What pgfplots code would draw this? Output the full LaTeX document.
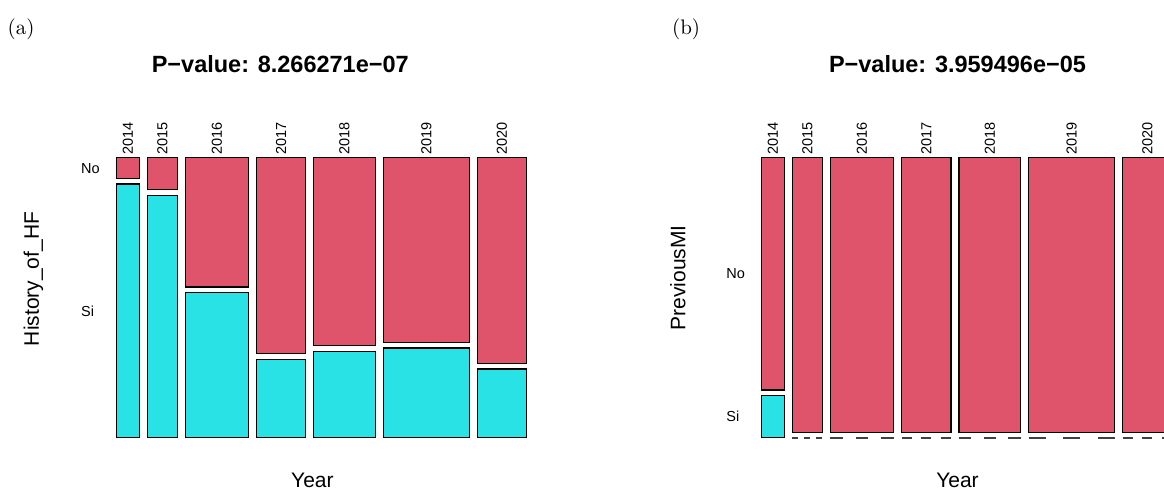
\documentclass[border=0pt]{standalone}
\usepackage{pgfplots}
\pgfplotsset{compat=1.18}
\usepackage{fontspec}
\newfontfamily\hv{Liberation Sans}
\definecolor{mred}{HTML}{DF536B}
\definecolor{mcyan}{HTML}{28E2E5}
\begin{document}
\begin{tikzpicture}
\begin{axis}[
  at={(0,0)}, anchor=north west,
  scale only axis, width=582bp, height=244.5bp,
  xmin=0, xmax=1164, ymin=0, ymax=489, y dir=reverse,
  hide axis, clip=true,
  tile/.style={draw=black, line width=0.6bp},
  red/.style={tile, fill=mred},
  cyan/.style={tile, fill=mcyan},
]
% ---- panel (a): History_of_HF by Year (tile corners, pixel units) ----
% 2014
\addplot[red]  coordinates {(116.3,157.3) (139.3,157.3) (139.3,178.3) (116.3,178.3)} --cycle;
\addplot[cyan] coordinates {(116.3,184.0) (139.3,184.0) (139.3,437.5) (116.3,437.5)} --cycle;
% 2015
\addplot[red]  coordinates {(147.3,157.3) (177.3,157.3) (177.3,189.7) (147.3,189.7)} --cycle;
\addplot[cyan] coordinates {(147.3,195.3) (177.3,195.3) (177.3,437.5) (147.3,437.5)} --cycle;
% 2016
\addplot[red]  coordinates {(185.3,157.3) (248.3,157.3) (248.3,287.0) (185.3,287.0)} --cycle;
\addplot[cyan] coordinates {(185.3,292.7) (248.3,292.7) (248.3,437.5) (185.3,437.5)} --cycle;
% 2017
\addplot[red]  coordinates {(256.7,157.3) (305.7,157.3) (305.7,353.3) (256.7,353.3)} --cycle;
\addplot[cyan] coordinates {(256.7,359.3) (305.7,359.3) (305.7,437.5) (256.7,437.5)} --cycle;
% 2018
\addplot[red]  coordinates {(313.7,157.3) (375.3,157.3) (375.3,345.7) (313.7,345.7)} --cycle;
\addplot[cyan] coordinates {(313.7,351.3) (375.3,351.3) (375.3,437.5) (313.7,437.5)} --cycle;
% 2019
\addplot[red]  coordinates {(383.3,157.3) (469.3,157.3) (469.3,342.3) (383.3,342.3)} --cycle;
\addplot[cyan] coordinates {(383.3,348.0) (469.3,348.0) (469.3,437.5) (383.3,437.5)} --cycle;
% 2020
\addplot[red]  coordinates {(477.3,157.3) (526.7,157.3) (526.7,363.3) (477.3,363.3)} --cycle;
\addplot[cyan] coordinates {(477.3,369.0) (526.7,369.0) (526.7,437.5) (477.3,437.5)} --cycle;
% ---- panel (b): PreviousMI by Year ----
% 2014
\addplot[red]  coordinates {(761.3,157.3) (784.3,157.3) (784.3,390.0) (761.3,390.0)} --cycle;
\addplot[cyan] coordinates {(761.3,395.3) (784.3,395.3) (784.3,437.5) (761.3,437.5)} --cycle;
% 2015--2020 (Si = 0)
\addplot[red]  coordinates {(792.3,157.3) (822.3,157.3) (822.3,432.3) (792.3,432.3)} --cycle;
\addplot[red]  coordinates {(830.3,157.3) (893.7,157.3) (893.7,432.3) (830.3,432.3)} --cycle;
\addplot[red]  coordinates {(901.7,157.3) (951.0,157.3) (951.0,432.3) (901.7,432.3)} --cycle;
\addplot[red]  coordinates {(959.0,157.3) (1020.7,157.3) (1020.7,432.3) (959.0,432.3)} --cycle;
\addplot[red]  coordinates {(1028.7,157.3) (1114.7,157.3) (1114.7,432.3) (1028.7,432.3)} --cycle;
\addplot[red]  coordinates {(1122.7,157.3) (1172.0,157.3) (1172.0,432.3) (1122.7,432.3)} --cycle;
% zero cells
\addplot[black!75, line width=0.8bp, dash pattern=on 3bp off 3bp]     coordinates {(792.3,437.8) (822.3,437.8)};
\addplot[black!75, line width=0.8bp, dash pattern=on 6.34bp off 6.34bp] coordinates {(830.3,437.8) (893.7,437.8)};
\addplot[black!75, line width=0.8bp, dash pattern=on 4.93bp off 4.93bp] coordinates {(901.7,437.8) (951.0,437.8)};
\addplot[black!75, line width=0.8bp, dash pattern=on 6.17bp off 6.17bp] coordinates {(959.0,437.8) (1020.7,437.8)};
\addplot[black!75, line width=0.8bp, dash pattern=on 8.6bp off 8.6bp]  coordinates {(1028.7,437.8) (1114.7,437.8)};
\addplot[black!75, line width=0.8bp, dash pattern=on 4.93bp off 4.93bp] coordinates {(1122.7,437.8) (1172.0,437.8)};
\end{axis}
\begin{scope}[x=0.5bp, y=-0.5bp]
\path[use as bounding box] (0,0) rectangle (1164,489);
% panel letters
\node[anchor=base west, inner sep=0, font=\fontsize{10.5bp}{12bp}\selectfont] at (7.3,34.6) {(a)};
\node[anchor=base west, inner sep=0, font=\fontsize{10.5bp}{12bp}\selectfont] at (671.7,34.6) {(b)};
% titles
\node[anchor=base, inner sep=0, font=\hv\bfseries\fontsize{11.75bp}{14bp}\selectfont] at (280.3,72.7) {P−value: 8.266271e−07};
\node[anchor=base, inner sep=0, font=\hv\bfseries\fontsize{11.75bp}{14bp}\selectfont] at (957.5,72.7) {P−value: 3.959496e−05};
% axis labels
\node[anchor=base, inner sep=0, font=\hv\fontsize{10.5bp}{12bp}\selectfont] at (312.4,487.3) {Year};
\node[anchor=base, inner sep=0, font=\hv\fontsize{10.5bp}{12bp}\selectfont] at (957.5,487.3) {Year};
\node[rotate=90, inner sep=0, font=\hv\fontsize{10.5bp}{12bp}\selectfont] at (33.4,279) {History\_of\_HF};
\node[rotate=90, inner sep=0, font=\hv\fontsize{10.5bp}{12bp}\selectfont] at (678,278) {PreviousMI};
% level labels
\begin{scope}[every node/.style={inner sep=0, font=\hv\fontsize{7.25bp}{9bp}\selectfont}]
\node[anchor=west] at (80.7,168.3) {No};
\node[anchor=west] at (80.7,311.2) {Si};
\node[anchor=west] at (726,274) {No};
\node[anchor=west] at (726,416.7) {Si};
\foreach \x/\lab in {127.8/2014,162.3/2015,216.8/2016,281.2/2017,344.5/2018,426.3/2019,502/2020,
                     772.8/2014,807.3/2015,862/2016,926.3/2017,989.8/2018,1071.7/2019,1147.3/2020}
  \node[rotate=90, anchor=west] at (\x,155) {\lab};
\end{scope}
\end{scope}
\end{tikzpicture}
\end{document}
